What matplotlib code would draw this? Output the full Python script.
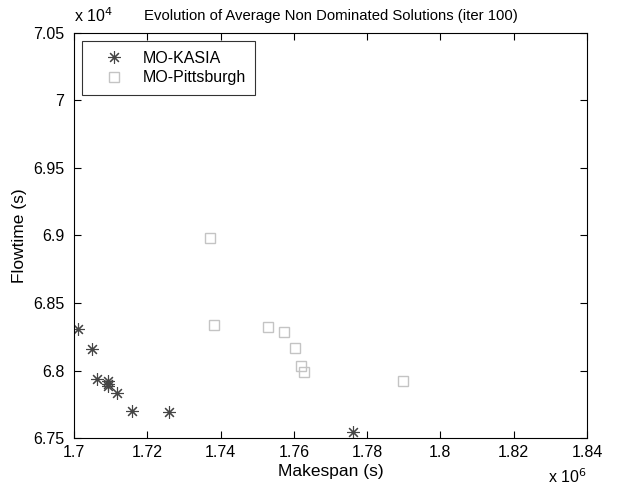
import matplotlib
matplotlib.use('Agg')
import matplotlib.pyplot as plt
from matplotlib.ticker import FuncFormatter, MultipleLocator

plt.rcParams['font.family'] = ['Liberation Sans', 'DejaVu Sans']

# MO-KASIA (makespan, flowtime)
kasia_makespan = [1.7012e6, 1.7050e6, 1.7064e6, 1.7092e6, 1.7094e6, 1.7094e6,
                  1.7117e6, 1.7157e6, 1.7259e6, 1.7762e6]
kasia_flowtime = [6.8305e4, 6.8162e4, 6.7935e4, 6.7925e4, 6.7900e4, 6.7885e4,
                  6.7831e4, 6.7700e4, 6.7690e4, 6.7547e4]

# MO-Pittsburgh
pitt_makespan = [1.7371e6, 1.7383e6, 1.7529e6, 1.7574e6, 1.7603e6, 1.7619e6,
                 1.7628e6, 1.7897e6]
pitt_flowtime = [6.8980e4, 6.8337e4, 6.8320e4, 6.8286e4, 6.8165e4, 6.8034e4,
                 6.7989e4, 6.7925e4]

fig = plt.figure(figsize=(6.19, 4.9), dpi=100)
ax = fig.add_axes([0.1195, 0.1061, 0.8288, 0.8266])

ax.plot(kasia_makespan, kasia_flowtime, linestyle='none', marker=(8, 2, 0),
        markersize=9, markeredgewidth=0.8, color='#454545', label='MO-KASIA')
ax.plot(pitt_makespan, pitt_flowtime, linestyle='none', marker='s',
        markersize=7.2, markerfacecolor='none', markeredgewidth=1.0,
        markeredgecolor='#c4c4c4', label='MO-Pittsburgh')

ax.set_xlim(1.70e6, 1.84e6)
ax.set_ylim(6.75e4, 7.05e4)
ax.xaxis.set_major_locator(MultipleLocator(0.02e6))
ax.yaxis.set_major_locator(MultipleLocator(0.05e4))
ax.xaxis.set_major_formatter(FuncFormatter(lambda v, p: '%g' % round(v / 1e6, 4)))
ax.yaxis.set_major_formatter(FuncFormatter(lambda v, p: '%g' % round(v / 1e4, 4)))

ax.tick_params(direction='in', top=True, right=True, length=5, width=0.8,
               labelsize=11.5)
ax.tick_params(axis='x', pad=5)
ax.tick_params(axis='y', pad=7)
for s in ax.spines.values():
    s.set_linewidth(0.8)

ax.set_xlabel('Makespan (s)', fontsize=12.5, labelpad=3)
ax.set_ylabel('Flowtime (s)', fontsize=12.5, labelpad=4)
ax.set_title('Evolution of Average Non Dominated Solutions (iter 100)',
             fontsize=10.7, pad=9)

ax.text(0.0, 1.02, r'x 10$^{4}$', transform=ax.transAxes, fontsize=11.5,
        ha='left', va='bottom')
ax.text(1.0, -0.072, r'x 10$^{6}$', transform=ax.transAxes, fontsize=11.5,
        ha='right', va='top')

leg = ax.legend(loc='upper left', fontsize=11.5, frameon=True, fancybox=False,
                edgecolor='black', borderpad=0.6, handlelength=2.8,
                handletextpad=0.4, borderaxespad=0.5, labelspacing=0.3)
leg.get_frame().set_linewidth(0.8)

fig.savefig('out.png', dpi=100)
